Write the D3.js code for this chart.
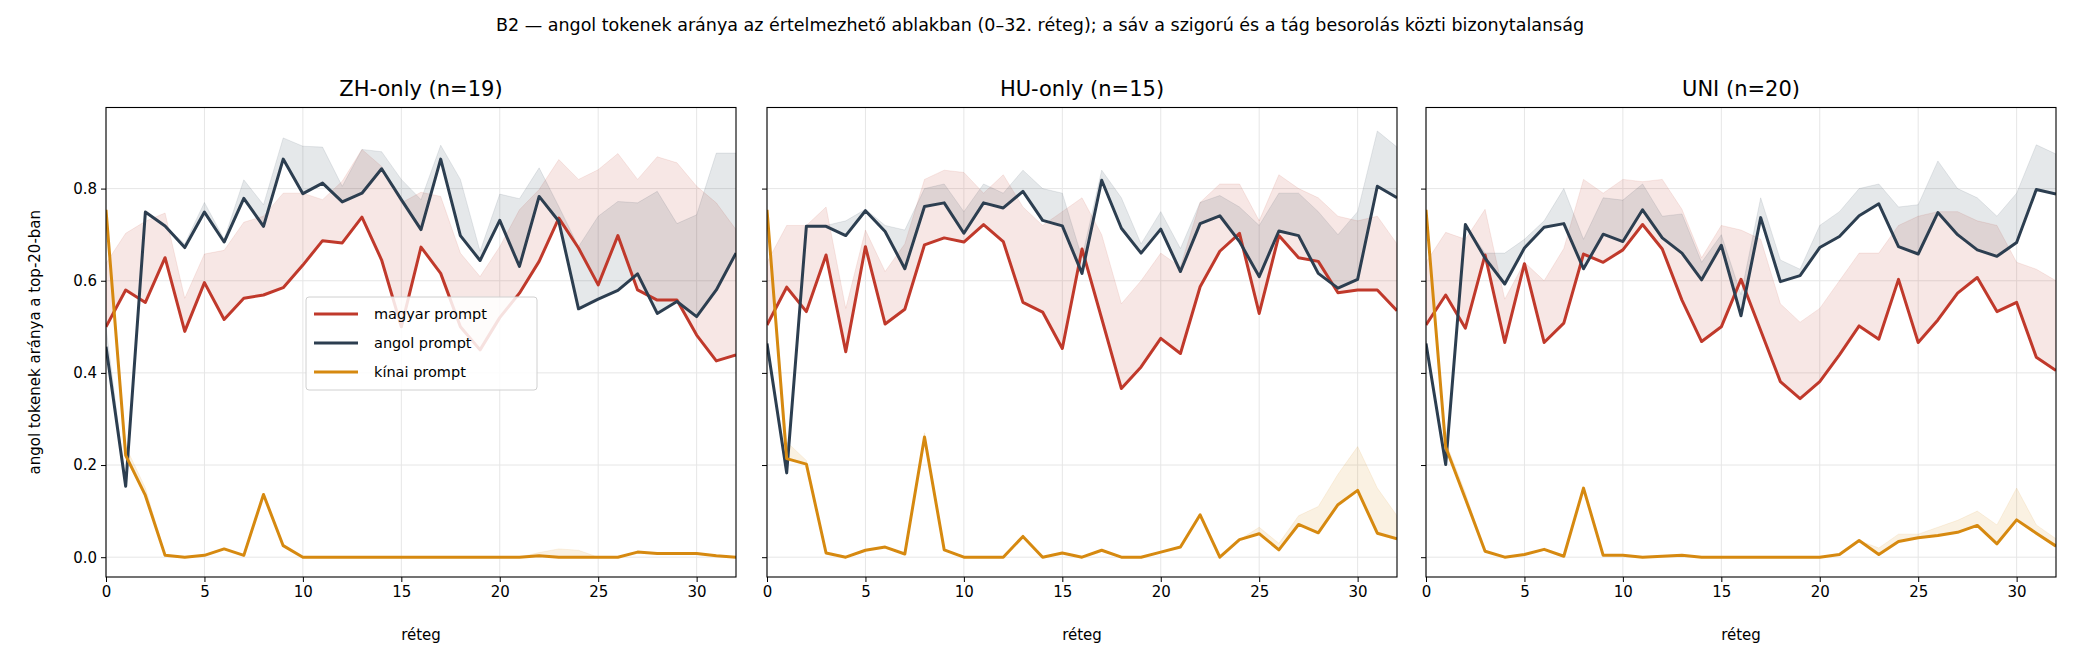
<!DOCTYPE html>
<html><head><meta charset="utf-8">
<script src="https://cdn.jsdelivr.net/npm/d3@7.9.0/dist/d3.min.js"></script>
<style>body{margin:0;background:#fff}svg{font-family:"DejaVu Sans",sans-serif}</style>
</head><body><svg id="chart" width="2080" height="672"></svg>
<script>
// layers 0..32
const layers = d3.range(0, 33);
const panelTitles = ['ZH-only (n=19)', 'HU-only (n=15)', 'UNI (n=20)'];
const seriesNames = ['magyar prompt', 'angol prompt', 'kínai prompt'];
const colors = ['#c0392b', '#2c3e50', '#d68910'];
const xTicks = [0, 5, 10, 15, 20, 25, 30];
const yTicks = [0, 0.2, 0.4, 0.6, 0.8];

// ZH-only
const zhHu = [0.50,0.58,0.553,0.65,0.49,0.596,0.516,0.562,0.569,0.585,0.634,0.687,0.682,0.738,0.645,0.50,0.673,0.616,0.50,0.45,0.52,0.573,0.642,0.736,0.671,0.591,0.698,0.58,0.558,0.558,0.482,0.426,0.439];
const zhEn = [0.457,0.154,0.749,0.719,0.672,0.749,0.684,0.779,0.718,0.864,0.789,0.812,0.771,0.79,0.843,0.776,0.711,0.864,0.698,0.644,0.731,0.631,0.783,0.729,0.539,0.56,0.579,0.615,0.529,0.555,0.522,0.58,0.66];
const zhZh = [0.754,0.221,0.134,0.004,0,0.004,0.018,0.004,0.136,0.025,0,0,0,0,0,0,0,0,0,0,0,0,0.003,0,0,0,0,0.011,0.008,0.008,0.008,0.003,0];
const zhHuUp = [0.638,0.703,0.729,0.747,0.562,0.658,0.666,0.727,0.74,0.79,0.79,0.776,0.816,0.885,0.848,0.769,0.792,0.783,0.66,0.609,0.674,0.754,0.798,0.863,0.82,0.841,0.876,0.82,0.869,0.856,0.805,0.769,0.711];
const zhEnUp = [0.50,0.16,0.75,0.72,0.68,0.77,0.69,0.819,0.765,0.91,0.892,0.89,0.805,0.885,0.88,0.82,0.776,0.894,0.82,0.664,0.788,0.778,0.845,0.761,0.674,0.74,0.772,0.769,0.794,0.724,0.743,0.877,0.877];
const zhZhUp = [0.754,0.24,0.15,0.006,0,0.004,0.018,0.004,0.136,0.025,0,0,0,0,0,0,0,0,0,0,0,0,0.01,0.018,0.015,0,0,0.011,0.008,0.008,0.008,0.003,0];

// HU-only
const huHu = [0.504,0.586,0.533,0.656,0.446,0.674,0.506,0.538,0.678,0.693,0.684,0.722,0.685,0.553,0.532,0.453,0.669,0.518,0.366,0.413,0.475,0.442,0.587,0.664,0.703,0.529,0.698,0.65,0.642,0.574,0.58,0.58,0.535];
const huEn = [0.464,0.183,0.718,0.718,0.698,0.752,0.707,0.626,0.761,0.769,0.703,0.769,0.758,0.794,0.731,0.719,0.616,0.818,0.714,0.66,0.712,0.62,0.724,0.741,0.685,0.609,0.708,0.698,0.616,0.584,0.603,0.805,0.78];
const huZh = [0.754,0.214,0.202,0.009,0,0.015,0.022,0.007,0.261,0.016,0,0,0,0.045,0,0.009,0,0.015,0,0,0.011,0.022,0.092,0,0.038,0.051,0.016,0.071,0.053,0.114,0.145,0.052,0.04];
const huHuUp = [0.64,0.72,0.72,0.76,0.54,0.71,0.62,0.68,0.82,0.84,0.835,0.79,0.83,0.76,0.72,0.75,0.78,0.70,0.55,0.60,0.66,0.63,0.77,0.81,0.81,0.73,0.83,0.80,0.78,0.74,0.73,0.74,0.68];
const huEnUp = [0.47,0.19,0.72,0.72,0.73,0.755,0.72,0.71,0.80,0.81,0.75,0.81,0.79,0.84,0.80,0.79,0.65,0.84,0.78,0.68,0.75,0.67,0.77,0.785,0.76,0.72,0.79,0.79,0.75,0.70,0.75,0.925,0.89];
const huZhUp = [0.754,0.25,0.21,0.009,0,0.015,0.022,0.007,0.27,0.016,0,0,0,0.045,0,0.009,0,0.015,0,0,0.011,0.022,0.092,0,0.038,0.065,0.03,0.09,0.11,0.18,0.24,0.15,0.09];

// UNI
const uniHu = [0.504,0.569,0.497,0.656,0.466,0.637,0.466,0.508,0.658,0.64,0.667,0.722,0.669,0.558,0.468,0.5,0.603,0.492,0.381,0.344,0.381,0.439,0.502,0.473,0.603,0.466,0.515,0.573,0.607,0.533,0.553,0.434,0.405];
const uniEn = [0.464,0.201,0.722,0.649,0.593,0.671,0.716,0.724,0.626,0.701,0.685,0.754,0.693,0.66,0.602,0.677,0.524,0.737,0.598,0.611,0.672,0.696,0.741,0.767,0.674,0.658,0.748,0.7,0.667,0.653,0.683,0.798,0.788];
const uniZh = [0.754,0.239,0.127,0.013,0,0.006,0.017,0.002,0.15,0.004,0.004,0,0.002,0.004,0,0,0,0,0,0,0,0.006,0.036,0.006,0.034,0.042,0.047,0.054,0.069,0.029,0.081,0.052,0.024];
const uniHuUp = [0.64,0.705,0.69,0.755,0.56,0.64,0.60,0.67,0.82,0.79,0.82,0.815,0.82,0.755,0.65,0.72,0.71,0.69,0.55,0.51,0.54,0.60,0.66,0.66,0.72,0.74,0.75,0.75,0.73,0.72,0.64,0.625,0.60];
const uniEnUp = [0.47,0.21,0.72,0.66,0.66,0.69,0.73,0.80,0.69,0.78,0.775,0.81,0.74,0.745,0.64,0.70,0.57,0.78,0.645,0.625,0.72,0.75,0.80,0.81,0.76,0.765,0.86,0.80,0.78,0.74,0.79,0.895,0.875];
const uniZhUp = [0.754,0.25,0.14,0.013,0,0.006,0.017,0.002,0.15,0.004,0.004,0,0.002,0.004,0,0,0,0,0,0,0,0.006,0.036,0.02,0.05,0.05,0.065,0.08,0.10,0.07,0.15,0.07,0.04];

const panels = [
  {lines: [zhHu, zhEn, zhZh], ups: [zhHuUp, zhEnUp, zhZhUp]},
  {lines: [huHu, huEn, huZh], ups: [huHuUp, huEnUp, huZhUp]},
  {lines: [uniHu, uniEn, uniZh], ups: [uniHuUp, uniEnUp, uniZhUp]}
];

const svg = d3.select('#chart');
const lefts = [106, 767, 1426], pw = 630, plotTop = 107.5, plotBottom = 577;

svg.append('text').attr('x', 1040).attr('y', 31).attr('text-anchor', 'middle')
  .attr('font-size', 17.5).text('B2 — angol tokenek aránya az értelmezhető ablakban (0–32. réteg); a sáv a szigorú és a tág besorolás közti bizonytalanság');

const y = d3.scaleLinear().domain([-0.043, 0.976]).range([plotBottom, plotTop]);

panels.forEach((p, pi) => {
  const x = d3.scaleLinear().domain([0, 32]).range([lefts[pi], lefts[pi] + pw]);
  const g = svg.append('g');
  const clipId = 'clip' + pi;
  g.append('clipPath').attr('id', clipId).append('rect')
    .attr('x', lefts[pi]).attr('y', plotTop).attr('width', pw).attr('height', plotBottom - plotTop);

  // grid
  g.selectAll('.gx').data(xTicks).join('line')
    .attr('x1', d => x(d)).attr('x2', d => x(d)).attr('y1', plotTop).attr('y2', plotBottom)
    .attr('stroke', '#e6e6e6').attr('stroke-width', 1);
  g.selectAll('.gy').data(yTicks).join('line')
    .attr('x1', lefts[pi]).attr('x2', lefts[pi] + pw).attr('y1', d => y(d)).attr('y2', d => y(d))
    .attr('stroke', '#e6e6e6').attr('stroke-width', 1);

  const plot = g.append('g').attr('clip-path', `url(#${clipId})`);
  // bands
  p.lines.forEach((ln, si) => {
    const area = d3.area().x((d, i) => x(i))
      .y0((d, i) => y(Math.min(ln[i], p.ups[si][i])))
      .y1((d, i) => y(Math.max(ln[i], p.ups[si][i])));
    plot.append('path').datum(layers).attr('d', area)
      .attr('fill', colors[si]).attr('fill-opacity', 0.12)
      .attr('stroke', colors[si]).attr('stroke-opacity', 0.1);
  });
  p.lines.forEach((ln, si) => {
    plot.append('path').datum(ln)
      .attr('d', d3.line().x((d, i) => x(i)).y(d => y(d)))
      .attr('fill', 'none').attr('stroke', colors[si]).attr('stroke-width', 3)
      .attr('stroke-linejoin', 'round');
  });

  // axes
  const xa = g.append('g').attr('transform', `translate(0,${plotBottom})`)
    .call(d3.axisBottom(x).tickValues(xTicks).tickSize(5).tickPadding(4));
  xa.select('.domain').remove();
  xa.selectAll('text').attr('font-size', 15).attr('font-family', 'DejaVu Sans').attr('fill', '#000');
  xa.selectAll('line').attr('stroke', '#000');
  const ya = g.append('g').attr('transform', `translate(${lefts[pi]},0)`)
    .call(d3.axisLeft(y).tickValues(yTicks).tickFormat(d3.format('.1f')).tickSize(5).tickPadding(4));
  ya.select('.domain').remove();
  ya.selectAll('line').attr('stroke', '#000');
  ya.selectAll('text').attr('font-size', 15).attr('font-family', 'DejaVu Sans').attr('fill', '#000');
  if (pi > 0) ya.selectAll('text').remove();

  g.append('rect').attr('x', lefts[pi]).attr('y', plotTop).attr('width', pw).attr('height', plotBottom - plotTop)
    .attr('fill', 'none').attr('stroke', '#000').attr('stroke-width', 1.1);

  g.append('text').attr('x', lefts[pi] + pw / 2).attr('y', 96).attr('text-anchor', 'middle')
    .attr('font-size', 21).text(panelTitles[pi]);
  g.append('text').attr('x', lefts[pi] + pw / 2).attr('y', 640).attr('text-anchor', 'middle')
    .attr('font-size', 15).text('réteg');
});

svg.append('text').attr('transform', `translate(40,${(plotTop + plotBottom) / 2}) rotate(-90)`)
  .attr('text-anchor', 'middle').attr('font-size', 15).text('angol tokenek aránya a top-20-ban');

// legend
const lg = svg.append('g').attr('transform', 'translate(306,297)');
lg.append('rect').attr('width', 231).attr('height', 93).attr('rx', 3)
  .attr('fill', '#fff').attr('fill-opacity', 0.85).attr('stroke', '#d0d0d0');
seriesNames.forEach((s, i) => {
  const yy = 17 + i * 29;
  lg.append('line').attr('x1', 8).attr('x2', 52).attr('y1', yy).attr('y2', yy)
    .attr('stroke', colors[i]).attr('stroke-width', 3);
  lg.append('text').attr('x', 68).attr('y', yy + 5).attr('font-size', 14.5).text(s);
});
</script></body></html>
